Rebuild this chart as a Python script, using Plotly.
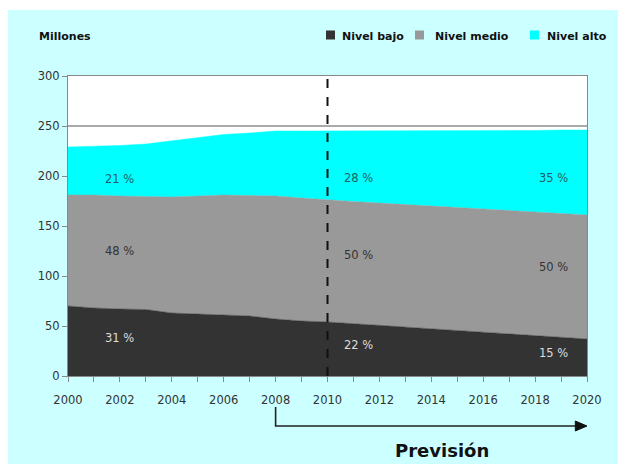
import plotly.graph_objects as go

years = list(range(2000, 2021))
nivel_bajo = [70, 68, 67, 66.5, 63, 62, 61, 60, 57, 55, 54, 52.3, 50.6, 48.9, 47.2, 45.5, 43.8, 42.1, 40.4, 38.7, 37]
nivel_medio = [111, 113, 113, 113, 116, 118, 120, 120.5, 123, 123, 122, 122.2, 122.4, 122.6, 122.8, 123, 123.2, 123.4, 123.6, 123.8, 124]
nivel_alto = [48, 48.5, 50.5, 52.5, 56, 58.5, 60.5, 62.5, 65, 67, 69, 70.5, 72, 73.5, 75, 76.5, 78, 79.5, 81.5, 83.5, 85]

series_names = ["Nivel bajo", "Nivel medio", "Nivel alto"]
series_colors = ["#333333", "#999999", "#00FFFF"]

# percentage labels
label_years = [2002.0, 2011.2, 2018.7]
label_bajo = ["31 %", "22 %", "15 %"]
label_medio = ["48 %", "50 %", "50 %"]
label_alto = ["21 %", "28 %", "35 %"]
label_y_bajo = [38, 31, 23]
label_y_medio = [125, 121, 109]
label_y_alto = [197, 198, 198]

y_ticks = [0, 50, 100, 150, 200, 250, 300]
x_ticks = list(range(2000, 2021, 2))

FONT = "DejaVu Sans"

fig = go.Figure()
for name, vals, col in zip(series_names, [nivel_bajo, nivel_medio, nivel_alto], series_colors):
    fig.add_trace(go.Scatter(
        x=years, y=vals, name=name, mode="lines", stackgroup="one",
        line=dict(width=0.5, color=col), fillcolor=col, showlegend=False,
        hoverinfo="skip",
    ))

annotations = []
for xs, ys, txts, col in [
    (label_years, label_y_bajo, label_bajo, "#DDDDDD"),
    (label_years, label_y_medio, label_medio, "#333333"),
    (label_years, label_y_alto, label_alto, "#1F5F5F"),
]:
    for x, y, t in zip(xs, ys, txts):
        annotations.append(dict(x=x, y=y, xref="x", yref="y", text=t, showarrow=False,
                                font=dict(family=FONT, size=11.5, color=col)))

# page geometry (page has an 8px body offset)
OFF = 8
PL, PT, PW, PH = 68, 76, 519, 300   # plot area in page pixels
FW, FH = 626 - OFF, 464 - OFF
L, T = PL - OFF, PT - OFF
R, B = FW - L - PW, FH - T - PH

def px(xp):
    return (xp - PL) / PW

def py(yp):
    return (PT + PH - yp) / PH

annotations.append(dict(x=px(37), y=py(36), xref="paper", yref="paper", text="<b>Millones</b>",
                        showarrow=False, xanchor="left", yanchor="middle",
                        font=dict(family=FONT, size=11, color="#111111")))

legend_pos = [(326, 340), (415, 433), (530, 545)]
shapes = []
for (sqx, tx), name, col in zip(legend_pos, series_names, series_colors):
    shapes.append(dict(type="rect", xref="paper", yref="paper",
                       x0=px(sqx), x1=px(sqx + 9), y0=py(39.5), y1=py(30.5),
                       fillcolor=col, line=dict(width=0)))
    annotations.append(dict(x=px(tx), y=py(36), xref="paper", yref="paper", text="<b>%s</b>" % name,
                            showarrow=False, xanchor="left", yanchor="middle",
                            font=dict(family=FONT, size=11, color="#111111")))

annotations.append(dict(x=2014.4, y=py(450), xref="x", yref="paper", text="<b>Previsión</b>",
                        showarrow=False, xanchor="center", yanchor="middle",
                        font=dict(family=FONT, size=18, color="#111111")))

# white page margins around the light-cyan panel
shapes += [
    dict(type="rect", xref="paper", yref="paper", x0=px(0), x1=px(640), y0=py(10), y1=py(0),
         fillcolor="white", line=dict(width=0), layer="below"),
    dict(type="rect", xref="paper", yref="paper", x0=px(620), x1=px(640), y0=py(480), y1=py(0),
         fillcolor="white", line=dict(width=0), layer="below"),
]

# dashed line at 2010
shapes.append(dict(type="line", xref="x", yref="y", x0=2010, x1=2010, y0=0, y1=300,
                   line=dict(color="#111111", width=2, dash="dash")))

# forecast arrow
ya, yb = py(407), py(426)
shapes.append(dict(type="path", xref="x", yref="paper",
                   path="M 2008,%f L 2008,%f L 2019.6,%f" % (ya, yb, yb),
                   line=dict(color="#222222", width=1.6)))
shapes.append(dict(type="path", xref="x", yref="paper",
                   path="M 2019.55,%f L 2020,%f L 2019.55,%f Z" % (py(421), yb, py(431)),
                   fillcolor="#111111", line=dict(color="#111111", width=1)))

fig.update_layout(
    width=FW, height=FH,
    margin=dict(l=L, r=R, t=T, b=B),
    paper_bgcolor="#CCFFFF",
    plot_bgcolor="white",
    font=dict(family=FONT, size=11.5, color="#333333"),
    annotations=annotations,
    shapes=shapes,
    showlegend=False,
)
fig.update_xaxes(
    range=[2000, 2020], tickvals=x_ticks, ticktext=[str(v) for v in x_ticks],
    showgrid=False, showline=True, linecolor="#888888", linewidth=1, mirror=True,
    ticks="outside", ticklen=5, tickcolor="#888888", ticklabelstandoff=8,
    minor=dict(dtick=1, tick0=2000, ticks="outside", ticklen=5, tickcolor="#888888", showgrid=False),
    tickfont=dict(family=FONT, size=11.5, color="#333333"), zeroline=False,
)
fig.update_yaxes(
    range=[0, 300], tickvals=y_ticks, showgrid=True, gridcolor="#AAAAAA", gridwidth=1.5,
    showline=True, linecolor="#888888", linewidth=1, mirror=True,
    ticks="outside", ticklen=5, tickcolor="#888888",
    tickfont=dict(family=FONT, size=11.5, color="#333333"), zeroline=False,
)

fig.write_html("out.html")
